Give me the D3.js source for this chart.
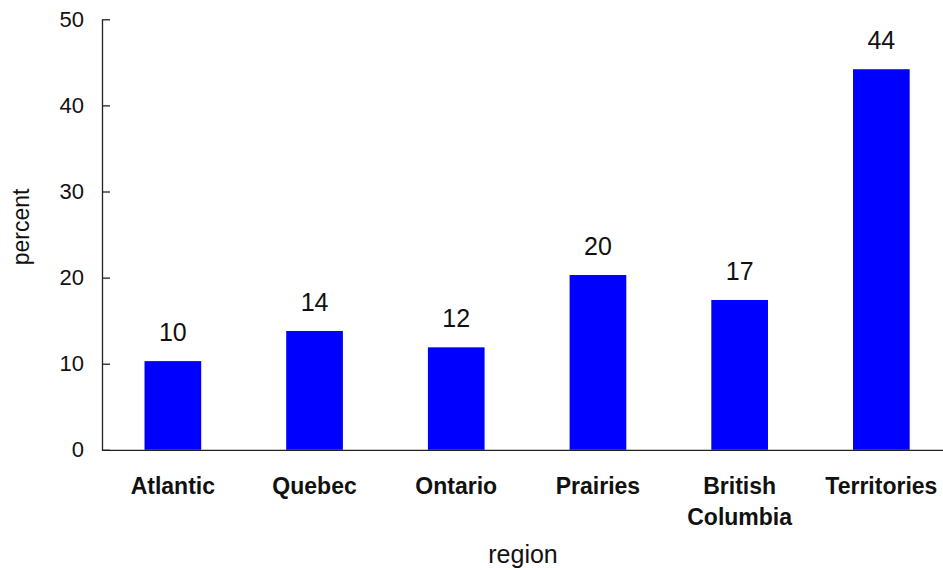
<!DOCTYPE html>
<html>
<head>
<meta charset="utf-8">
<script src="https://cdn.jsdelivr.net/npm/d3@7"></script>
<style>
  html, body { margin: 0; padding: 0; background: #fff; }
  svg { display: block; font-family: "Liberation Sans", Arial, sans-serif; }
</style>
</head>
<body>
<svg id="chart" width="943" height="570"></svg>
<script>
// Share of population by region (percent)
const regions = ["Atlantic", "Quebec", "Ontario", "Prairies", "British Columbia", "Territories"];
const regionLines = [["Atlantic"], ["Quebec"], ["Ontario"], ["Prairies"], ["British", "Columbia"], ["Territories"]];
const percents = [10.3, 13.8, 11.9, 20.3, 17.4, 44.2];
const yTicks = [0, 10, 20, 30, 40, 50];

const svg = d3.select("#chart");
const plotLeft = 102, plotBottom = 449.8, plotTop = 19.3;
const step = 141.7;

const x = d3.scaleBand()
  .domain(regions)
  .range([plotLeft, plotLeft + step * regions.length])
  .paddingInner(0.6)
  .paddingOuter(0.3);

const y = d3.scaleLinear().domain([0, 50]).range([plotBottom, plotTop]);

// bars
svg.append("g").selectAll("rect")
  .data(regions)
  .join("rect")
  .attr("x", d => x(d))
  .attr("y", (d, i) => y(percents[i]))
  .attr("width", x.bandwidth())
  .attr("height", (d, i) => y(0) - y(percents[i]))
  .attr("fill", "#0000ff");

// value labels
svg.append("g").selectAll("text")
  .data(regions)
  .join("text")
  .attr("x", d => x(d) + x.bandwidth() / 2)
  .attr("y", (d, i) => y(percents[i]) - 20)
  .attr("text-anchor", "middle")
  .attr("font-size", 25)
  .attr("fill", "#111")
  .text((d, i) => d3.format(".0f")(percents[i]));

// y axis
const yAxis = svg.append("g")
  .attr("transform", `translate(${plotLeft},0)`)
  .call(d3.axisRight(y).tickValues(yTicks).tickSize(8).tickSizeOuter(0).tickFormat(d3.format("d")));
yAxis.select(".domain").attr("stroke", "#222").attr("stroke-width", 1.3);
yAxis.selectAll(".tick line").attr("stroke", "#222").attr("stroke-width", 1.3);
yAxis.selectAll(".tick text")
  .attr("x", -18)
  .attr("text-anchor", "end")
  .attr("font-size", 22)
  .attr("font-family", "Liberation Sans, Arial, sans-serif")
  .attr("fill", "#111");

// x axis baseline
const xAxis = svg.append("g")
  .attr("transform", `translate(0,${plotBottom})`)
  .call(d3.axisBottom(x).tickSize(0).tickSizeOuter(0).tickFormat(""));
xAxis.select(".domain").attr("stroke", "#222").attr("stroke-width", 1.3);
xAxis.selectAll(".tick text").remove();

// category labels (bold, may wrap)
const cat = svg.append("g").selectAll("text")
  .data(regions)
  .join("text")
  .attr("text-anchor", "middle")
  .attr("font-size", 23)
  .attr("font-weight", "bold")
  .attr("fill", "#111")
  .attr("x", d => x(d) + x.bandwidth() / 2)
  .attr("y", 494);
cat.each(function(d, i) {
  d3.select(this).selectAll("tspan")
    .data(regionLines[i])
    .join("tspan")
    .attr("x", x(d) + x.bandwidth() / 2)
    .attr("dy", (t, j) => j === 0 ? 0 : 31)
    .text(t => t);
});

// axis titles
svg.append("text")
  .attr("x", 523)
  .attr("y", 563)
  .attr("text-anchor", "middle")
  .attr("font-size", 25)
  .attr("fill", "#111")
  .text("region");

svg.append("text")
  .attr("transform", "translate(29,227) rotate(-90)")
  .attr("text-anchor", "middle")
  .attr("font-size", 23)
  .attr("fill", "#111")
  .text("percent");
</script>
</body>
</html>
